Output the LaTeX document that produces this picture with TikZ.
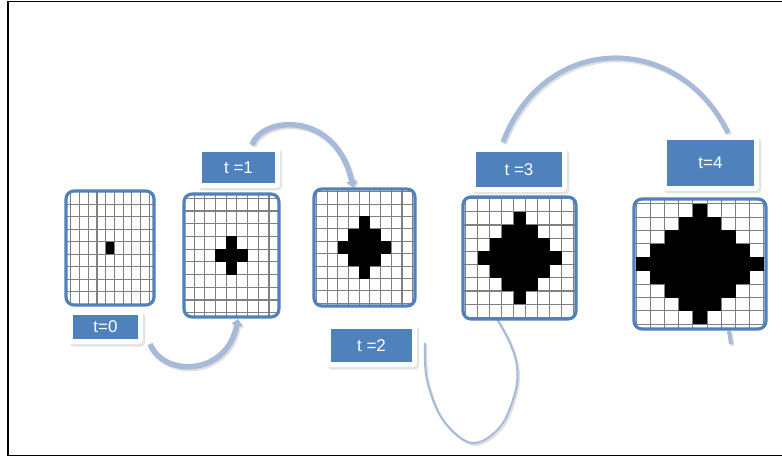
\documentclass[tikz,border=0pt]{standalone}
\usepackage{fontspec}
\setmainfont{Liberation Sans}
\usetikzlibrary{shadows,arrows.meta}
\definecolor{lblue}{HTML}{4F81BD}
\definecolor{gblue}{HTML}{4F81BD}
\definecolor{arcc}{HTML}{A7BAD9}
\tikzset{
 gridline/.style={draw=black!50, line width=1.1pt},
 gridbox/.style={draw=gblue, line width=3.2pt, fill=white, rounded corners=8pt, inner sep=0pt},
 labouter/.style={fill=white, rounded corners=4pt, inner sep=0pt,
   drop shadow={shadow xshift=2pt, shadow yshift=-2.5pt, opacity=0.22}},
 labinner/.style={fill=lblue, inner sep=0pt, text=white, font=\fontsize{17}{20}\selectfont},
 arcline/.style={draw=arcc, line width=5.5pt},
 arcthin/.style={draw=arcc, line width=2pt},
 arcshade/.style={draw=black, opacity=0.13, transform canvas={xshift=1.5pt,yshift=-1.8pt}},
 tipA/.style={-{Triangle[width=11pt,length=6pt]}},
}
\newcommand\mkgrid[9]{%
 \node[gridbox, minimum width=#4pt, minimum height=#5pt,
  path picture={
   \begin{scope}[sharp corners, shift={(path picture bounding box.center)}, xshift=#9pt]
    \foreach \k in {-9,...,8}{
      \draw[gridline] ({(\k+0.5)*#6},-120) -- ({(\k+0.5)*#6},120);
      \draw[gridline] (-120,{(\k+0.5)*#7}) -- (120,{(\k+0.5)*#7});
    }
    \foreach \i in {-#8,...,#8}{
      \pgfmathtruncatemacro\mm{#8-abs(\i)}
      \foreach \j in {-\mm,...,\mm}{
        \fill[black, sharp corners] ({(\i-0.5)*#6},{(\j-0.5)*#7}) rectangle ++(#6,#7);
      }
    }
   \end{scope}
  }] (#1) at (#2,#3) {};
}
\newcommand\allarcs[2]{%
 \draw[arcline, #1, draw=#2, tipA] (a1s) .. controls (163,377) and (227,377) .. (a1e);
 \draw[arcline, #1, draw=#2, tipA] (a2s) .. controls (262,116) and (336,110) .. (a2e);
 \draw[arcthin, #1, draw=#2] plot[smooth, tension=0.6] coordinates {(a3s) (427,380) (443,420) (472,443) (500,427) (515,393) (517,367) (510,343) (a3e)};
 \draw[arcline, #1, draw=#2, line width=5pt] (a4s) .. controls (545,31.5) and (679,31.5) .. (a4e);
 \draw[arcline, #1, draw=#2, line width=4pt] (a5s) -- (a5e);
}
\begin{document}
\begin{tikzpicture}[x=1pt,y=-1pt]
\useasboundingbox (0,0) rectangle (782,457);
\fill[white] (0,0) rectangle (782,457);
\draw[line width=1.6pt] (790,1.5) -| (8,455.3) -- (790,455.3);

\coordinate (a1s) at (150,344);
\coordinate (a1e) at (238,319);
\coordinate (a2s) at (252,145);
\coordinate (a2e) at (353,187);
\coordinate (a3s) at (425,343);
\coordinate (a3e) at (497,319);
\coordinate (a4s) at (503,142);
\coordinate (a4e) at (728,133);
\coordinate (a5s) at (729,331);
\coordinate (a5e) at (731,344);

\allarcs{arcshade}{black}
\allarcs{}{arcc}

\mkgrid{G0}{110}{248}{88}{114}{8.7}{12.5}{0}{0.8}
\mkgrid{G1}{231.5}{255.5}{95}{123}{10.7}{12.7}{1}{2.5}
\mkgrid{G2}{364.5}{247.5}{101}{117}{10.7}{12.4}{2}{0}
\mkgrid{G3}{519.5}{258}{113}{122}{12}{13.2}{3}{0}
\mkgrid{G4}{700}{264}{132}{130}{14.2}{13.4}{4}{0}

\node[labouter, minimum width=75pt, minimum height=34pt] (L0o) at (105.5,327) {};
\node[labinner, minimum width=65pt, minimum height=24pt] (L0) at (105.5,327) {t=0};
\node[labouter, minimum width=83pt, minimum height=41pt] (L1o) at (238.5,167.5) {};
\node[labinner, minimum width=73pt, minimum height=31pt] (L1) at (238.5,167.5) {t =1};
\node[labouter, minimum width=91pt, minimum height=43pt] (L2o) at (371.5,345.5) {};
\node[labinner, minimum width=81pt, minimum height=33pt] (L2) at (371.5,345.5) {t =2};
\node[labouter, minimum width=96pt, minimum height=45pt] (L3o) at (519,169.5) {};
\node[labinner, minimum width=86pt, minimum height=35pt] (L3) at (519,169.5) {t =3};
\node[labouter, minimum width=97pt, minimum height=56pt] (L4o) at (710.5,163) {};
\node[labinner, minimum width=87pt, minimum height=46pt] (L4) at (710.5,163) {t=4};
\end{tikzpicture}
\end{document}
